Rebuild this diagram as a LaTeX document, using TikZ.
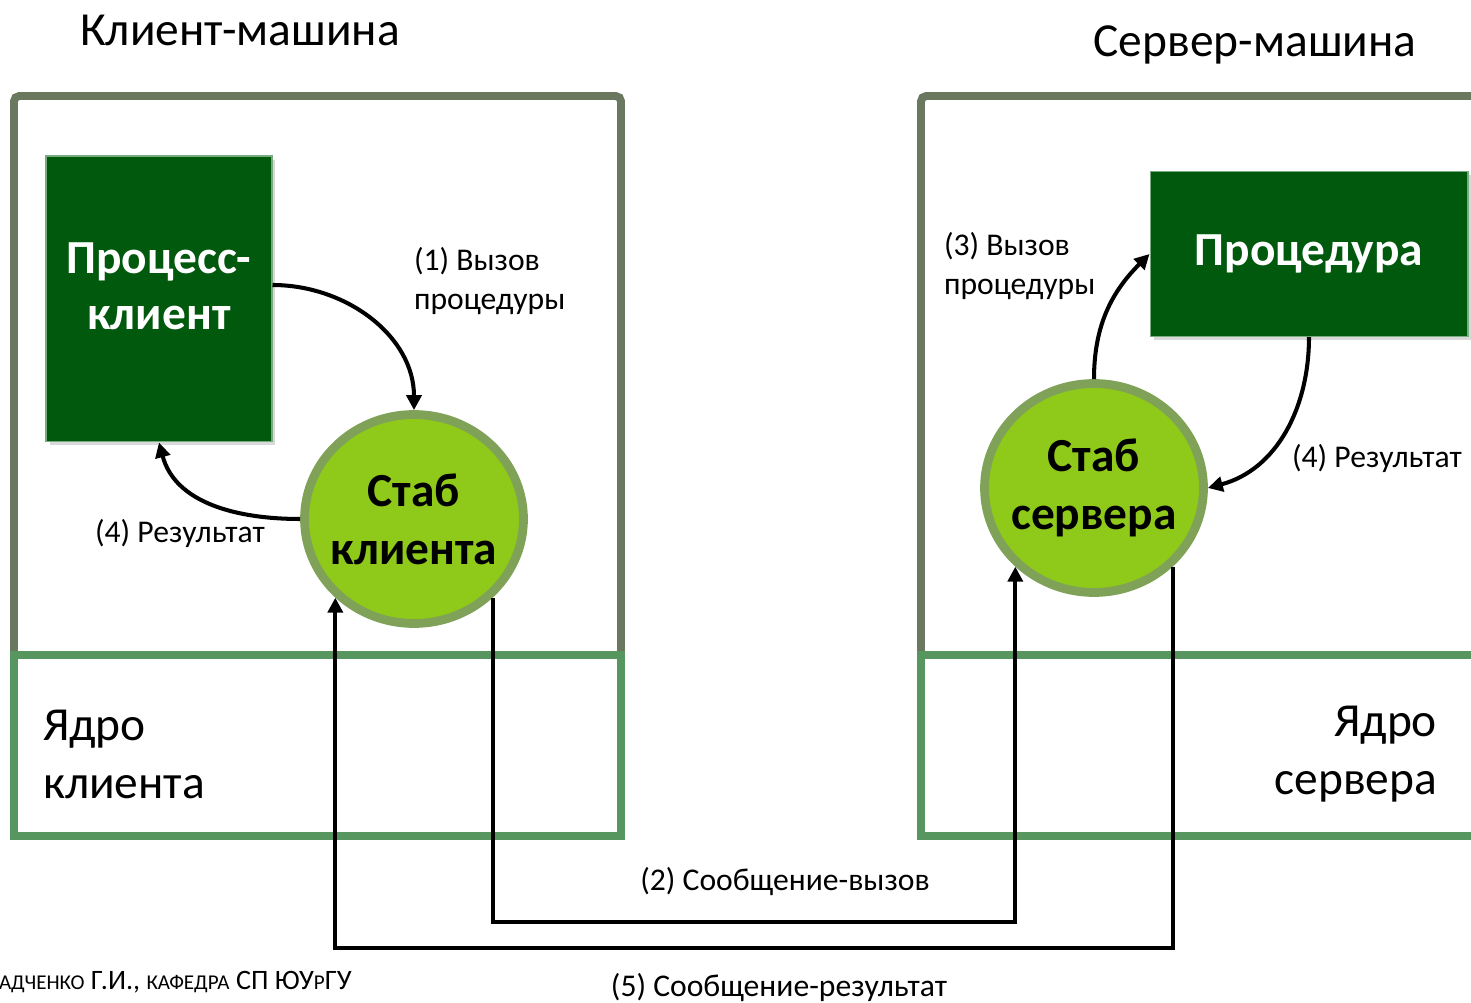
\documentclass[tikz,border=0pt]{standalone}
\usepackage{fontspec}
\setmainfont{Carlito}
\usetikzlibrary{arrows.meta,shapes.geometric,shadows}
\usepackage{xcolor}
\definecolor{machinegray}{RGB}{106,120,95}
\definecolor{kernelgreen}{RGB}{88,150,96}
\definecolor{procgreen}{RGB}{0,89,12}
\definecolor{stubfill}{RGB}{143,201,25}
\definecolor{stubrim}{RGB}{127,162,88}
\newcommand{\smcap}[1]{{\fontsize{12}{14}\selectfont #1}}

\begin{document}
\begin{tikzpicture}[
  x=0.02cm,y=-0.02cm,
  line width=2.3pt,
  every node/.style={font=\fontsize{18}{22}\selectfont,inner sep=0pt},
  title/.style={font=\fontsize{27}{33}\selectfont},
  machine/.style={draw=machinegray,line width=4.5pt,rounded corners=3pt},
  kernel/.style={draw=kernelgreen,line width=4.5pt},
  procbox/.style={rectangle,fill=procgreen,draw=kernelgreen!80,line width=0.6pt,
    text=white,align=center,font=\fontsize{27}{32}\selectfont\bfseries,
    drop shadow={opacity=0.3,shadow xshift=2pt,shadow yshift=-2pt}},
  stub/.style={ellipse,fill=stubfill,draw=stubrim,line width=5pt,
    inner xsep=-0.3cm,inner ysep=0pt,
    minimum width=4.38cm,minimum height=4.18cm,align=center,
    font=\fontsize{27}{33}\selectfont\bfseries},
  call/.style={-{Triangle[length=8.5pt,width=8.5pt]},line width=2.3pt}
]
  \clip (0,0) rectangle (1471,1003);

  % Client machine.
  \node[title] (clienttitle) at (240,30) {Клиент-машина};
  \draw[machine] (14,655) |- (621,96) -- (621,655);
  \draw[kernel] (14,655) rectangle (621,836);
  \node[title,anchor=west,align=left] (clientkernel) at (41,754)
    {Ядро\\клиента};
  \node[procbox,minimum width=4.52cm,minimum height=5.72cm] (procc) at (159,299)
    {Процесс-\\клиент\rule[-0.52cm]{0pt}{0pt}};
  \node[stub] (stubc) at (414,519) {Стаб\\клиента};

  % Server machine.
  \node[title] (servertitle) at (1255,45) {Сервер-машина};
  \draw[machine] (921,655) |- (1490,96);
  \draw[kernel] (1490,655) -| (921,836) -- (1490,836);
  \node[title,anchor=east,align=right] (serverkernel) at (1439,754)
    {Ядро\\сервера};
  \node[procbox,minimum width=6.36cm,minimum height=3.3cm] (procs) at (1309,254)
    {Процедура\rule[-0.08cm]{0pt}{0pt}};
  \node[stub] (stubs) at (1094,488) {Стаб\\сервера};

  % Local calls and results.
  \draw[call] ([yshift=0.28cm]procc.east) to[out=0,in=90] (stubc.north);
  \node[anchor=west,align=left] (calllbl) at (412,281) {(1) Вызов\\процедуры};
  \draw[call] (stubc.west) to[out=180,in=-75] (procc.south);
  \node (reslbl) at (180,533) {(4) Результат};
  \draw[call] (stubs.north) to[out=90,in=225] (procs.west);
  \node[anchor=west,align=left] (srvcalllbl) at (942,266) {(3) Вызов\\процедуры};
  \draw[call] (procs.south) to[out=-90,in=15] (stubs.east);
  \node[anchor=west] (srvreslbl) at (1290,458) {(4) Результат};

  % Messages between the kernels.
  \coordinate (callbend) at (760,922);
  \coordinate (resbend) at (760,948);
  \draw[call] (stubc.-45) |- (callbend) -| (stubs.-135);
  \draw[call] (stubs.-45) |- (resbend) -| (stubc.-135);
  \node (msgcall) at (785,882) {(2) Сообщение-вызов};
  \node (msgres) at (779,988) {(5) Сообщение-результат};

  \node[anchor=west,font=\fontsize{16}{18}\selectfont] (credit) at (-3,982)
    {\smcap{АДЧЕНКО} Г.И., \smcap{КАФЕДРА} СП ЮУ\smcap{Р}ГУ};
\end{tikzpicture}
\end{document}
